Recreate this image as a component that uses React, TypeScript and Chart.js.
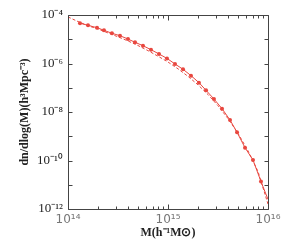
import React, { useEffect, useRef } from 'react';
import { Chart, registerables } from 'chart.js';

Chart.register(...registerables);

// Simulated halo mass function (points + solid line)
const simMass = [
  1.318e14, 1.585e14, 1.95e14, 2.29e14, 2.75e14, 3.31e14, 3.98e14, 4.68e14,
  5.62e14, 6.76e14, 8.13e14, 9.77e14, 1.175e15, 1.413e15, 1.698e15, 2.04e15,
  2.4e15, 2.88e15, 3.47e15, 4.17e15, 4.9e15, 5.89e15, 7.08e15, 8.51e15,
];
const simDensity = [
  4.57e-5, 3.76e-5, 2.99e-5, 2.34e-5, 1.76e-5, 1.4e-5, 1.02e-5, 7.48e-6,
  5.42e-6, 3.71e-6, 2.47e-6, 1.62e-6, 9.55e-7, 5.75e-7, 3.16e-7, 1.62e-7,
  7.85e-8, 3.44e-8, 1.37e-8, 4.68e-9, 1.46e-9, 3.37e-10, 1.05e-10, 1.35e-11,
];

// Solid-line continuation beyond the last point
const tailMass = [8.51e15, 1e16];
const tailDensity = [1.35e-11, 2.5e-12];

// Theoretical mass function (dashed)
const theoryMass = [
  1e14, 1.259e14, 1.585e14, 1.995e14, 2.512e14, 3.162e14, 3.981e14, 5.012e14,
  6.31e14, 7.943e14, 1e15, 1.259e15, 1.585e15, 1.995e15, 2.512e15, 3.162e15,
  3.981e15, 5.012e15, 6.31e15, 7.943e15, 1e16,
];
const theoryDensity = [
  8.32e-5, 5.37e-5, 3.63e-5, 2.63e-5, 1.82e-5, 1.26e-5, 8.51e-6, 5.5e-6,
  3.39e-6, 2.0e-6, 1.15e-6, 6.03e-7, 2.95e-7, 1.32e-7, 5.25e-8, 1.82e-8,
  5.37e-9, 1.32e-9, 2.51e-10, 3.55e-11, 1.6e-12,
];

const xTickValues = [1e14, 1e15, 1e16];
const xTickLabels = ['10\u00B9\u2074', '10\u00B9\u2075', '10\u00B9\u2076'];
const xMinorValues = [
  2e14, 3e14, 4e14, 5e14, 6e14, 7e14, 8e14, 9e14,
  2e15, 3e15, 4e15, 5e15, 6e15, 7e15, 8e15, 9e15,
];
const yTickValues = [1e-12, 1e-10, 1e-8, 1e-6, 1e-4];
const yTickLabels = ['10\u207B\u00B9\u00B2', '10\u207B\u00B9\u2070', '10\u207B\u2078', '10\u207B\u2076', '10\u207B\u2074'];
const yMarkValues = [1e-12, 1e-11, 1e-10, 1e-9, 1e-8, 1e-7, 1e-6, 1e-5, 1e-4];

const xTitle = 'M(h\u207B\u00B9M\u2299)';
const yTitle = 'dn/dlog(M)(h\u00B3Mpc\u207B\u00B3)';

const RED = '#e8473f';

const framePlugin = {
  id: 'frame',
  afterDraw(chart: any) {
    const { ctx, chartArea: a, scales } = chart;
    const x = scales.x;
    const y = scales.y;
    ctx.save();
    ctx.strokeStyle = '#444';
    ctx.lineWidth = 1;
    const L = Math.round(a.left) + 0.5;
    const R = Math.round(a.right) + 0.5;
    const T = Math.round(a.top) + 0.5;
    const B = Math.round(a.bottom) + 0.5;
    ctx.beginPath();
    ctx.rect(L, T, R - L, B - T);
    xTickValues.forEach((v) => {
      const p = Math.round(x.getPixelForValue(v)) + 0.5;
      ctx.moveTo(p, B); ctx.lineTo(p, B - 5);
      ctx.moveTo(p, T); ctx.lineTo(p, T + 5);
    });
    xMinorValues.forEach((v) => {
      const p = Math.round(x.getPixelForValue(v)) + 0.5;
      ctx.moveTo(p, B); ctx.lineTo(p, B - 3);
      ctx.moveTo(p, T); ctx.lineTo(p, T + 3);
    });
    yMarkValues.forEach((v) => {
      const p = Math.round(y.getPixelForValue(v)) + 0.5;
      ctx.moveTo(L, p); ctx.lineTo(L + 4, p);
      ctx.moveTo(R, p); ctx.lineTo(R - 4, p);
    });
    ctx.stroke();
    ctx.restore();
  },
};

export default function App() {
  const canvasRef = useRef<HTMLCanvasElement | null>(null);

  useEffect(() => {
    if (!canvasRef.current) return;
    const chart = new Chart(canvasRef.current, {
      type: 'line',
      data: {
        datasets: [
          {
            label: 'theory',
            data: theoryMass.map((m, i) => ({ x: m, y: theoryDensity[i] })),
            borderColor: RED,
            borderWidth: 1,
            borderDash: [3, 2],
            pointRadius: 0,
            fill: false,
          },
          {
            label: 'tail',
            data: tailMass.map((m, i) => ({ x: m, y: tailDensity[i] })),
            borderColor: RED,
            borderWidth: 1,
            pointRadius: 0,
            fill: false,
          },
          {
            label: 'simulation',
            data: simMass.map((m, i) => ({ x: m, y: simDensity[i] })),
            borderColor: RED,
            backgroundColor: RED,
            borderWidth: 1,
            pointRadius: 2,
            pointBorderWidth: 0,
            pointStyle: 'circle',
            fill: false,
          },
        ],
      },
      options: {
        animation: false,
        responsive: true,
        maintainAspectRatio: false,
        layout: { padding: { top: 15, right: 33, left: 0, bottom: 0 } },
        plugins: { legend: { display: false }, tooltip: { enabled: false } },
        scales: {
          x: {
            type: 'logarithmic',
            min: 1e14,
            max: 1e16,
            grid: { display: false, drawTicks: false },
            border: { display: false },
            afterBuildTicks: (s: any) => {
              s.ticks = xTickValues.map((v) => ({ value: v }));
            },
            afterFit: (s: any) => {
              s.height = 37;
            },
            ticks: {
              autoSkip: false,
              maxRotation: 0,
              padding: 4,
              color: '#777',
              font: { family: '"DejaVu Sans", sans-serif', size: 12 },
              callback: (_v: any, i: number) => xTickLabels[i],
            },
            title: {
              display: true,
              text: xTitle,
              color: '#222',
              font: { family: '"Liberation Serif", serif', size: 12, weight: 'bold' },
              padding: { top: 0, bottom: 6 },
            },
          },
          y: {
            type: 'logarithmic',
            min: 1e-12,
            max: 1e-4,
            grid: { display: false, drawTicks: false },
            border: { display: false },
            afterBuildTicks: (s: any) => {
              s.ticks = yTickValues.map((v) => ({ value: v }));
            },
            afterFit: (s: any) => {
              s.width = 68;
            },
            ticks: {
              autoSkip: false,
              padding: 5,
              color: '#222',
              font: { family: '"Liberation Serif", serif', size: 13 },
              callback: (_v: any, i: number) => yTickLabels[i],
            },
            title: {
              display: true,
              text: yTitle,
              color: '#222',
              font: { family: '"Liberation Serif", serif', size: 12, weight: 'bold' },
              padding: { top: 18, bottom: 0 },
            },
          },
        },
      },
      plugins: [framePlugin],
    } as any);
    return () => chart.destroy();
  }, []);

  return (
    <div style={{ position: 'absolute', left: 0, top: 0, width: 301, height: 246, background: '#fff' }}>
      <canvas ref={canvasRef} />
    </div>
  );
}
